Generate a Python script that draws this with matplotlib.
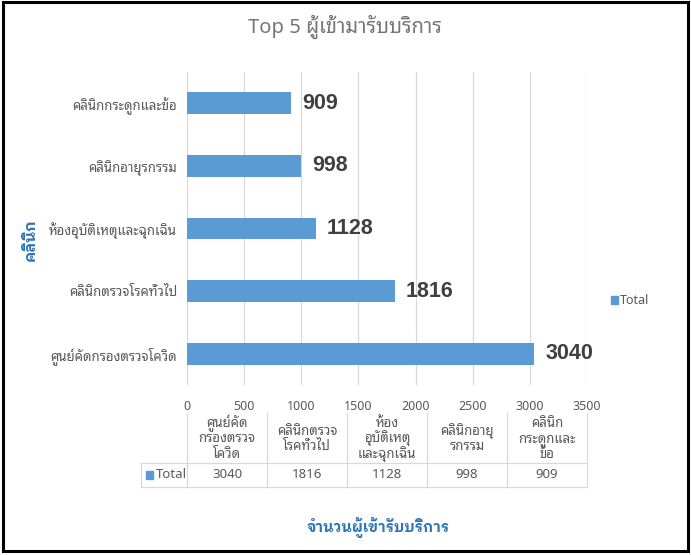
import matplotlib
matplotlib.use('Agg')
import matplotlib.pyplot as plt
from matplotlib.patches import Rectangle
from matplotlib.lines import Line2D

plt.rcParams['font.family'] = ['Noto Sans', 'Noto Sans Thai Looped']
BOLD_FAMILY = ['Liberation Sans', 'IBM Plex Sans Thai Looped']

# data
clinics = ['ศูนย์คัดกรองตรวจโควิด', 'คลินิกตรวจโรคทั่วไป', 'ห้องอุบัติเหตุและฉุกเฉิน',
           'คลินิกอายุรกรรม', 'คลินิกกระดูกและข้อ']
clinics_wrapped = ['ศูนย์คัด\nกรองตรวจ\nโควิด', 'คลินิกตรวจ\nโรคทั่วไป', 'ห้อง\nอุบัติเหตุ\nและฉุกเฉิน',
                   'คลินิกอายุ\nรกรรม', 'คลินิก\nกระดูกและ\nข้อ']
totals = [3040, 1816, 1128, 998, 909]
xticks = [0, 500, 1000, 1500, 2000, 2500, 3000, 3500]

blue = '#5b9bd5'
grey_txt = '#595959'
axis_blue = '#2e75b6'
W, H = 691, 555

fig = plt.figure(figsize=(W / 100, H / 100), dpi=100)
ax = fig.add_axes([187 / W, 1 - 385 / H, 400 / W, 313 / H])

ypos = list(range(len(clinics)))
ax.barh(ypos, totals, height=0.35, color=blue, zorder=3)
for y, v in zip(ypos, totals):
    ax.annotate(str(v), (v, y), xytext=(8, 0), textcoords='offset points',
                va='center', ha='left', fontsize=15.5, fontweight='bold',
                family=BOLD_FAMILY, color='#404040')

ax.set_xlim(0, 3500)
ax.set_ylim(-0.5, len(clinics) - 0.5)
ax.set_xticks(xticks)
ax.set_yticks(ypos)
ax.set_yticklabels(clinics)
ax.grid(axis='x', color='#d9d9d9', linewidth=0.9, zorder=0)
for s in ax.spines.values():
    s.set_visible(False)
ax.tick_params(axis='both', length=0, colors=grey_txt)
ax.tick_params(axis='x', pad=11, labelsize=9)
ax.tick_params(axis='y', pad=7, labelsize=9.5)

# data table under the axis
line_kw = dict(color='#d9d9d9', linewidth=0.9)
top, mid, bot = 413, 463, 487
cols = [187 + 80 * i for i in range(6)]
def fx(px):
    return px / W
def fy(py):
    return 1 - py / H
for c in cols:
    fig.add_artist(Line2D([fx(c), fx(c)], [fy(top), fy(bot)], **line_kw))
fig.add_artist(Line2D([fx(141), fx(141)], [fy(mid), fy(bot)], **line_kw))
fig.add_artist(Line2D([fx(141), fx(587)], [fy(mid), fy(mid)], **line_kw))
fig.add_artist(Line2D([fx(141), fx(587)], [fy(bot), fy(bot)], **line_kw))
pitch = 15.5
for i, (name, v) in enumerate(zip(clinics_wrapped, totals)):
    cx = fx(cols[i] + 40)
    parts = name.split('\n')
    first = 438 - pitch * (len(parts) - 1) / 2
    for k, part in enumerate(parts):
        fig.text(cx, fy(first + k * pitch + 4.5), part, ha='center', va='baseline',
                 fontsize=9.5, color=grey_txt)
    fig.text(cx, fy((mid + bot) / 2), str(v), ha='center', va='center',
             fontsize=9.5, color=grey_txt)
fig.add_artist(Rectangle((fx(146), fy(479)), 7 / W, 8 / H, color=blue))
fig.text(fx(156), fy((mid + bot) / 2), 'Total', ha='left', va='center',
         fontsize=9.5, color=grey_txt)

# titles
fig.text(fx(345), fy(27), 'Top 5 ผู้เข้ามารับบริการ', ha='center', va='center',
         fontsize=14.5, color='#757575')
fig.text(fx(31), fy(240), 'คลินิก', rotation=90, ha='center', va='center',
         fontsize=11, fontweight='bold', family=BOLD_FAMILY, color=axis_blue)
fig.text(fx(378), fy(527), 'จำนวนผู้เข้ารับบริการ', ha='center', va='center',
         fontsize=10.5, fontweight='bold', family=BOLD_FAMILY, color=axis_blue)

# legend
fig.add_artist(Rectangle((fx(611), fy(304)), 7 / W, 8 / H, color=blue))
fig.text(fx(620), fy(300), 'Total', ha='left', va='center', fontsize=9, color=grey_txt)

# screenshot frame
fig.add_artist(Rectangle((fx(3), fy(551)), 685 / W, 549 / H, fill=False,
                         edgecolor='black', linewidth=2.2))

fig.savefig('out.png', dpi=100)
